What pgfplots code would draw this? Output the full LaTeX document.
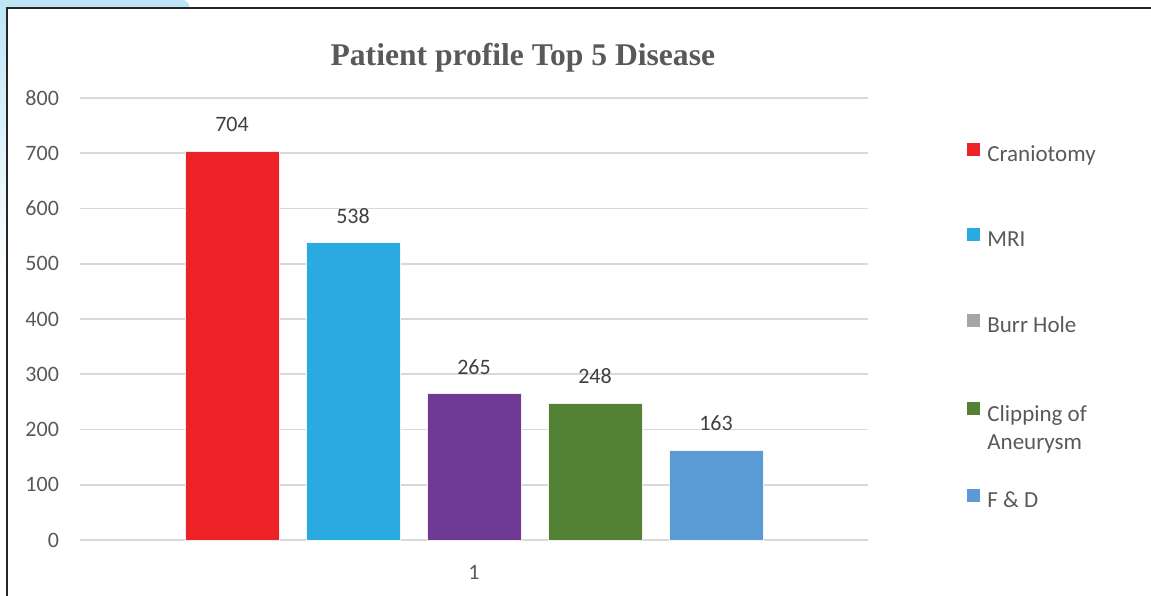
\documentclass[border=0pt]{standalone}
\usepackage{pgfplots}
\pgfplotsset{compat=1.18}
\usepackage{fontspec}
\setmainfont{Carlito}
\newfontfamily\titlefont{Liberation Serif}

\definecolor{cranio}{HTML}{ED2227}
\definecolor{mri}{HTML}{29ABE2}
\definecolor{burr}{HTML}{6F3A93}
\definecolor{burrleg}{HTML}{A5A5A5}
\definecolor{clip}{HTML}{548235}
\definecolor{fd}{HTML}{5B9BD5}
\definecolor{txt}{HTML}{595959}
\definecolor{lbl}{HTML}{404040}
\definecolor{deco}{HTML}{BDE5F5}

\begin{document}
\begin{tikzpicture}
% page = 1151x595 px, 1px = 0.5pt
\path[use as bounding box] (0,0) rectangle (575.5pt,297.5pt);
\shade[top color=deco, bottom color=white] (0,297.5pt) rectangle (3.5pt,160pt);
\fill[deco] (0,293.5pt) rectangle (92pt,297.5pt);
\fill[deco] (92pt,297.5pt) .. controls (95pt,296pt) and (95pt,294.5pt) .. (94pt,293.5pt) -- (92pt,293.5pt) -- cycle;
\draw[black!85, line width=1pt] (3.5pt,-5pt) -- (3.5pt,293.5pt) -- (580pt,293.5pt);

\begin{axis}[
    at={(40pt,27.5pt)}, anchor=south west,
    scale only axis,
    width=394pt, height=221pt,
    ybar, bar width=0.777, bar shift=0pt,
    xmin=-1.256, xmax=5.256,
    ymin=0, ymax=800,
    ytick={0,100,...,800},
    xtick={2}, xticklabels={1},
    ymajorgrids,
    major grid style={draw=black!15, line width=0.8pt},
    axis line style={draw=none},
    tick style={draw=none},
    tick label style={font=\fontsize{11}{13}\selectfont, text=txt},
    yticklabel style={xshift=-7pt},
    xticklabel style={yshift=-5pt},
    /pgf/number format/assume math mode=true,
    nodes near coords,
    every node near coord/.append style={font=\fontsize{11}{13}\selectfont, text=lbl, yshift=6pt},
    title={\titlefont\bfseries Patient profile Top 5 Disease},
    title style={at={(0.562,1)}, anchor=base, yshift=10.5pt, font=\fontsize{15.8}{17}\selectfont, text=txt},
    legend style={at={(1.1256,0.893)}, anchor=north west, xshift=-3pt, yshift=4pt,
        draw=none, fill=none,
        font=\fontsize{11.5}{14}\selectfont, text=txt, row sep=29.5pt, column sep=1.5pt,
        cells={anchor=west}},
    legend image code/.code={\draw[#1,draw=none] (0pt,-0.5pt) rectangle (6.5pt,6pt);},
]
\addplot[fill=cranio, draw=white!90!cranio] coordinates {(0,704)};
\addlegendentry{Craniotomy}
\addplot[fill=mri, draw=white!90!mri] coordinates {(1,538)};
\addlegendentry{MRI}
\addplot[fill=burr, draw=white!90!burr, forget plot] coordinates {(2,265)};
\addlegendimage{fill=burrleg}
\addlegendentry{Burr Hole}
\addplot[fill=clip, draw=white!90!clip] coordinates {(3,248)};
\addlegendentry{\strut\smash{\begin{tabular}[t]{@{}l@{}}Clipping of\\Aneurysm\end{tabular}}}
\addplot[fill=fd, draw=white!90!fd] coordinates {(4,163)};
\addlegendentry{F \& D}
\end{axis}
\end{tikzpicture}
\end{document}
